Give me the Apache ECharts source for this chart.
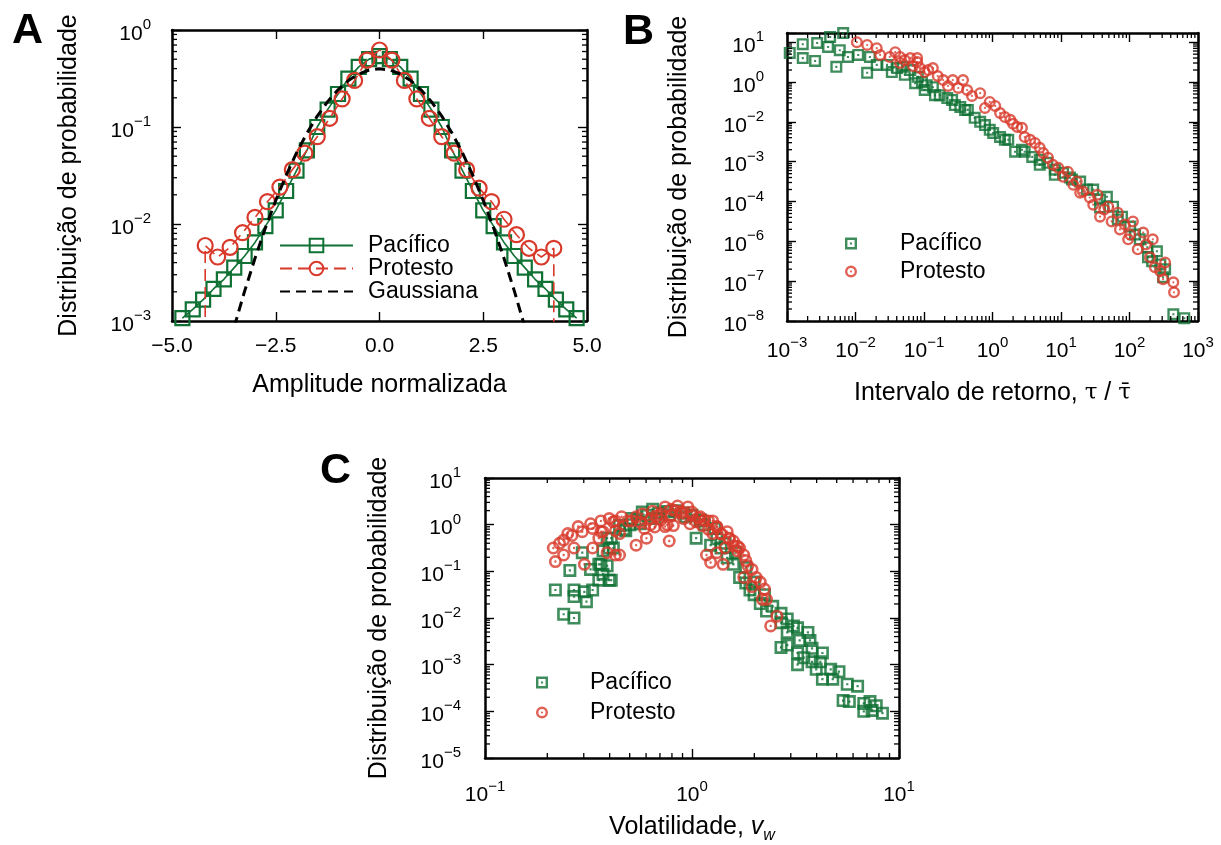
<!DOCTYPE html>
<html>
<head>
<meta charset="utf-8">
<script src="https://cdn.jsdelivr.net/npm/echarts@6/dist/echarts.min.js"></script>
<style>
  html, body { margin: 0; padding: 0; background: #fff; }
  #chart { width: 1221px; height: 845px; }
</style>
</head>
<body>
<div id="chart"></div>
<script>
// ---------- data ----------
// A: distribution of normalized amplitudes
const ampPacX = [-4.75,-4.5,-4.25,-4.0,-3.75,-3.5,-3.25,-3.0,-2.75,-2.5,-2.25,-2.0,-1.75,-1.5,-1.25,-1.0,-0.75,-0.5,-0.25,0,
                 0.25,0.5,0.75,1.0,1.25,1.5,1.75,2.0,2.25,2.5,2.75,3.0,3.25,3.5,3.75,4.0,4.25,4.5,4.75];
const ampPacP = [0.00107,0.00132,0.00166,0.00214,0.00269,0.00355,0.00468,0.00646,0.0095,0.0138,0.0219,0.0355,0.0575,0.100,0.151,0.219,0.316,0.417,0.501,0.537,
                 0.501,0.417,0.316,0.219,0.151,0.100,0.0575,0.0355,0.0219,0.0138,0.0095,0.00646,0.00468,0.00355,0.00269,0.00214,0.00166,0.00132,0.00107];
const ampProX = [-4.2,-3.9,-3.6,-3.3,-3.0,-2.7,-2.4,-2.1,-1.8,-1.5,-1.2,-0.9,-0.6,-0.3,0,
                 0.3,0.6,0.9,1.2,1.5,1.8,2.1,2.4,2.7,3.0,3.3,3.6,3.9,4.2];
const ampProP = [0.0060,0.00457,0.00575,0.00813,0.0117,0.0170,0.0240,0.0363,0.0537,0.0794,0.123,0.195,0.302,0.490,0.622,
                 0.490,0.302,0.195,0.123,0.0794,0.0537,0.0363,0.0234,0.0170,0.0112,0.00776,0.00562,0.00457,0.00562];
// empty outer bins: the dashed curve drops to the floor of the axis there
const ampProFloor = 1e-5;
const gaussX = [-3.5,-3.25,-3.0,-2.75,-2.5,-2.25,-2.0,-1.75,-1.5,-1.25,-1.0,-0.75,-0.5,-0.25,0,
                0.25,0.5,0.75,1.0,1.25,1.5,1.75,2.0,2.25,2.5,2.75,3.0,3.25,3.5];
const gaussP = [0.000873,0.00203,0.00443,0.00909,0.0175,0.0317,0.0540,0.0863,0.1295,0.1826,0.2420,0.3011,0.3521,0.3867,0.3989,
                0.3867,0.3521,0.3011,0.2420,0.1826,0.1295,0.0863,0.0540,0.0317,0.0175,0.00909,0.00443,0.00203,0.000873];

// B: return intervals, pairs of (log10 tau/taubar, log10 P)
const retPac = [[-2.96,0.73],[-2.77,0.95],[-2.77,0.60],[-2.59,0.53],[-2.56,0.98],[-2.40,0.88],[-2.37,1.13],[-2.28,0.38],
  [-2.23,0.80],[-2.18,1.23],[-2.11,0.63],[-1.96,0.68],[-1.83,0.23],[-1.79,0.63],[-1.69,0.43],[-1.54,0.43],[-1.47,0.25],
  [-1.39,0.35],[-1.31,0.38],[-1.28,0.18],[-1.20,0.30],[-1.13,-0.03],[-1.09,0.13],[-1.03,0.0],[-0.99,-0.20],[-0.96,-0.08],
  [-0.87,-0.13],[-0.84,-0.33],[-0.77,-0.33],[-0.66,-0.40],[-0.59,-0.45],[-0.55,-0.58],[-0.47,-0.63],[-0.40,-0.70],
  [-0.36,-0.70],[-0.26,-0.90],[-0.18,-1.00],[-0.11,-1.08],[-0.04,-1.20],[0.01,-1.28],[0.11,-1.38],[0.18,-1.45],[0.23,-1.45],
  [0.33,-1.75],[0.43,-1.70],[0.47,-1.75],[0.58,-1.88],[0.69,-1.95],[0.69,-2.08],[0.80,-2.03],[0.91,-2.20],[0.91,-2.33],
  [1.03,-2.28],[1.13,-2.40],[1.16,-2.45],[1.28,-2.50],[1.38,-2.70],[1.47,-2.70],[1.57,-2.95],[1.57,-3.15],[1.67,-2.88],
  [1.76,-3.13],[1.83,-3.45],[1.89,-3.38],[2.01,-3.63],[2.08,-3.83],[2.15,-3.95],[2.26,-4.15],[2.27,-4.40],[2.33,-4.50],
  [2.40,-4.25],[2.45,-4.58],[2.52,-4.70],[2.49,-4.90],[2.64,-5.83],[2.80,-5.93]];
const retPro = [[-1.98,1.00],[-1.83,0.93],[-1.69,0.85],[-1.64,0.68],[-1.50,0.63],[-1.42,0.75],[-1.35,0.48],[-1.35,0.63],
  [-1.28,0.55],[-1.20,0.60],[-1.16,0.40],[-1.10,0.50],[-1.10,0.60],[-1.06,0.35],[-0.99,0.25],[-0.94,0.30],[-0.87,0.35],
  [-0.80,0.15],[-0.72,0.05],[-0.65,-0.10],[-0.58,0.05],[-0.50,-0.15],[-0.43,0.05],[-0.37,-0.20],[-0.30,-0.35],[-0.18,-0.28],
  [-0.11,-0.65],[-0.04,-0.50],[0.04,-0.60],[0.11,-0.78],[0.18,-0.88],[0.26,-0.95],[0.30,-1.05],[0.36,-1.13],[0.43,-1.15],
  [0.47,-1.38],[0.55,-1.45],[0.62,-1.53],[0.69,-1.65],[0.74,-1.78],[0.81,-1.90],[0.88,-2.08],[0.96,-2.15],[1.03,-2.38],
  [1.10,-2.25],[1.18,-2.58],[1.23,-2.50],[1.28,-2.78],[1.32,-2.75],[1.42,-2.90],[1.47,-3.08],[1.53,-2.83],[1.57,-3.38],
  [1.63,-3.20],[1.69,-3.13],[1.74,-3.50],[1.83,-3.28],[1.86,-3.70],[1.93,-3.58],[1.98,-3.95],[2.01,-3.83],[2.05,-3.50],
  [2.12,-4.20],[2.20,-3.78],[2.24,-4.08],[2.30,-4.40],[2.34,-3.95],[2.37,-4.65],[2.45,-4.75],[2.49,-4.95],[2.52,-4.53],
  [2.64,-5.03],[2.65,-5.28]];
// printed exponents of the y tick labels, bottom to top (decades 10^-6 … 10^1)
const retYTickExp = ['−8','−7','−6','−4','−3','−2','0','1'];

// C: volatility, pairs of (log10 v_w, log10 P)
const volPac = [[-0.59,-0.98],[-0.66,-1.40],[-0.57,-1.40],[-0.57,-1.54],[-0.52,-1.44],[-0.51,-1.65],[-0.62,-1.92],[-0.57,-2.00],
  [-0.53,-0.60],[-0.49,-0.96],[-0.45,-0.85],[-0.43,-1.06],[-0.39,-1.19],[-0.45,-1.19],[-0.48,-1.40],[-0.41,-0.88],[-0.43,-0.56],
  [-0.38,-0.50],[-0.40,-0.50],[-0.44,-0.85],[-0.40,-1.19],[-0.41,-0.29],[-0.39,-0.29],[-0.35,-0.02],[-0.33,-0.10],[-0.32,-0.13],
  [-0.30,0.00],[-0.29,0.13],[-0.26,0.10],[-0.25,0.02],[-0.24,0.27],[-0.22,0.20],[-0.19,0.33],[-0.18,0.13],[-0.16,0.25],
  [-0.12,0.28],[-0.11,0.21],[-0.08,0.30],[-0.04,0.25],[-0.03,0.17],[0.00,0.20],[0.04,0.10],[0.04,0.08],[0.06,0.00],
  [0.11,-0.08],[0.02,-0.29],[0.09,-0.44],[0.12,-0.30],[0.14,-0.50],[0.16,-0.40],[0.17,-0.71],[0.20,-0.85],[0.21,-0.60],
  [0.23,-1.13],[0.26,-0.92],[0.26,-1.25],[0.28,-1.40],[0.30,-1.50],[0.30,-1.23],[0.33,-1.69],[0.35,-1.50],[0.39,-1.75],
  [0.36,-1.85],[0.43,-1.90],[0.46,-2.02],[0.49,-2.17],[0.56,-2.31],[0.43,-2.10],[0.46,-2.31],[0.51,-2.21],[0.52,-2.48],
  [0.46,-2.58],[0.43,-2.63],[0.57,-2.48],[0.51,-2.75],[0.58,-2.65],[0.63,-2.75],[0.54,-2.85],[0.51,-3.00],[0.58,-2.94],
  [0.62,-2.94],[0.60,-3.10],[0.67,-3.10],[0.63,-3.31],[0.68,-3.31],[0.71,-3.15],[0.75,-3.42],[0.80,-3.46],[0.73,-3.77],
  [0.76,-3.79],[0.83,-3.83],[0.86,-3.79],[0.83,-4.00],[0.89,-3.88],[0.92,-4.04],[0.87,-3.98]];
const volPro = [[-0.67,-0.50],[-0.66,-0.79],[-0.64,-0.40],[-0.62,-0.65],[-0.62,-0.33],[-0.60,-0.19],[-0.58,-0.23],[-0.57,-0.50],
  [-0.55,-0.04],[-0.53,-0.15],[-0.52,-0.85],[-0.49,0.02],[-0.48,-0.08],[-0.48,-0.50],[-0.45,-0.29],[-0.44,0.08],[-0.44,-0.15],
  [-0.43,-0.15],[-0.41,-0.60],[-0.40,0.13],[-0.38,0.06],[-0.37,-0.13],[-0.37,0.08],[-0.37,-0.65],[-0.35,-0.65],[-0.35,-0.19],
  [-0.34,0.17],[-0.31,0.08],[-0.29,0.08],[-0.27,-0.44],[-0.27,0.17],[-0.25,0.05],[-0.24,0.23],[-0.23,-0.08],[-0.22,-0.29],
  [-0.20,0.13],[-0.20,0.00],[-0.19,0.29],[-0.18,-0.05],[-0.17,0.19],[-0.15,0.23],[-0.15,0.10],[-0.13,0.38],[-0.13,-0.04],
  [-0.12,0.00],[-0.11,-0.35],[-0.10,0.20],[-0.10,0.33],[-0.09,-0.02],[-0.08,0.30],[-0.07,0.40],[-0.05,0.25],[-0.05,0.29],
  [-0.04,0.13],[-0.02,0.38],[-0.01,0.02],[0.00,0.20],[0.00,0.27],[0.02,0.06],[0.03,0.15],[0.04,0.17],[0.05,-0.02],
  [0.06,0.10],[0.07,-0.65],[0.08,-0.10],[0.08,0.08],[0.09,-0.81],[0.10,0.08],[0.10,-0.19],[0.12,-0.05],[0.12,-0.04],
  [0.12,-0.60],[0.14,-0.20],[0.14,-0.19],[0.15,-0.85],[0.16,-0.50],[0.17,-0.15],[0.18,-0.30],[0.18,-0.29],[0.20,-0.35],
  [0.20,-0.45],[0.22,-0.56],[0.22,-0.46],[0.23,-0.50],[0.25,-0.65],[0.26,-0.77],[0.27,-0.88],[0.25,-1.13],[0.29,-0.96],
  [0.31,-1.13],[0.29,-1.33],[0.33,-1.23],[0.34,-1.60],[0.35,-1.38],[0.36,-1.60],[0.41,-1.96],[0.38,-2.17]];

// ---------- styling helpers ----------
const FONT = '"Liberation Sans", Arial, Helvetica, sans-serif';
const SERIF = '"DejaVu Serif", "Liberation Serif", serif';
const GREEN = '#0f7133';
const RED = '#d8392a';
const INK = '#000';
const MAJOR = 9, MINOR = 5;
const TICK_FS = 21, SUP_FS = 15, TITLE_FS = 25, LEGEND_FS = 23;

const SQUARE_DOT = 'path://M0,0H20V20H0Z M4,4V16H16V4Z M8.3,8.3H11.7V11.7H8.3Z';
const CIRCLE_DOT = 'path://M10,0A10,10 0 1,1 10,20A10,10 0 1,1 10,0Z M10,4A6,6 0 1,0 10,16A6,6 0 1,0 10,4Z M10,8.2A1.8,1.8 0 1,1 10,11.8A1.8,1.8 0 1,1 10,8.2Z';

const supRich = {
  b: { fontSize: TICK_FS, lineHeight: TICK_FS, verticalAlign: 'bottom', fontFamily: FONT, color: INK },
  s: { fontSize: SUP_FS, lineHeight: SUP_FS, padding: [0, 0, 12, 0], verticalAlign: 'bottom', fontFamily: FONT, color: INK }
};
function pow10Label(exp) { return '{b|10}{s|' + exp + '}'; }
function decadeLabel(v) {
  const l = Math.log10(v), e = Math.round(l);
  if (Math.abs(l - e) > 1e-6) return '';
  return pow10Label(e < 0 ? '−' + (-e) : String(e));
}
function logMinors(lo, hi) {
  const out = [];
  for (let e = Math.floor(Math.log10(lo)); e <= Math.ceil(Math.log10(hi)); e++) {
    for (let m = 2; m <= 9; m++) {
      const v = m * Math.pow(10, e);
      if (v > lo && v < hi) out.push(v);
    }
  }
  return out;
}
const fromLog = pairs => pairs.map(p => [Math.pow(10, p[0]), Math.pow(10, p[1])]);

const frame = { show: true, onZero: false, lineStyle: { color: INK, width: 2.5 } };
const tick = { show: true, inside: true, length: MAJOR, lineStyle: { color: INK, width: 1.4 } };

function axisPair(dim, g, base, labelOpts, nameOpts) {
  const pos = dim === 'x' ? ['bottom', 'top'] : ['left', 'right'];
  const main = Object.assign({
    gridIndex: g, position: pos[0], axisLine: frame, axisTick: tick, splitLine: { show: false },
    axisLabel: Object.assign({ color: INK, fontFamily: FONT, fontSize: TICK_FS }, labelOpts)
  }, base, nameOpts || {});
  const mirror = Object.assign({
    gridIndex: g, position: pos[1], axisLine: frame, axisTick: tick, splitLine: { show: false },
    axisLabel: { show: false }
  }, base);
  return [main, mirror];
}

// minor ticks drawn inside the frame on both opposite edges
function minorTicks(g, dim, values, anchor) {
  return {
    type: 'custom', xAxisIndex: 2 * g, yAxisIndex: 2 * g, silent: true, z: 5, clip: false,
    data: values.map(v => dim === 'x' ? [v, anchor] : [anchor, v]),
    renderItem(params, api) {
      const cs = params.coordSys;
      const st = { stroke: INK, lineWidth: 1.3 };
      if (dim === 'x') {
        const px = api.coord([api.value(0), anchor])[0];
        const yb = cs.y + cs.height, yt = cs.y;
        return { type: 'group', children: [
          { type: 'line', shape: { x1: px, y1: yb, x2: px, y2: yb - MINOR }, style: st },
          { type: 'line', shape: { x1: px, y1: yt, x2: px, y2: yt + MINOR }, style: st } ] };
      }
      const py = api.coord([anchor, api.value(1)])[1];
      const xl = cs.x, xr = cs.x + cs.width;
      return { type: 'group', children: [
        { type: 'line', shape: { x1: xl, y1: py, x2: xl + MINOR, y2: py }, style: st },
        { type: 'line', shape: { x1: xr, y1: py, x2: xr - MINOR, y2: py }, style: st } ] };
    }
  };
}

const yName = (gap) => ({
  name: 'Distribuição de probabilidade', nameLocation: 'middle', nameGap: gap, nameRotate: 90,
  nameTextStyle: { fontFamily: FONT, fontSize: TITLE_FS, color: INK }
});
// y tick labels sit a little low so that the "10" is centred on its tick
const yLabelPad = [8, 0, 0, 0];

// ---------- axes ----------
const xA = axisPair('x', 0, { type: 'value', min: -5, max: 5, interval: 2.5 },
  { margin: 15, formatter: v => (v < 0 ? '−' : '') + Math.abs(v).toFixed(1) },
  { name: 'Amplitude normalizada', nameLocation: 'middle', nameGap: 52,
    nameTextStyle: { fontFamily: FONT, fontSize: TITLE_FS, color: INK } });
const yA = axisPair('y', 0, { type: 'log', logBase: 10, min: 1e-3, max: 1 },
  { margin: 21, padding: yLabelPad, formatter: decadeLabel, rich: supRich }, yName(90));

const xB = axisPair('x', 1, { type: 'log', logBase: 10, min: 1e-3, max: 1e3 },
  { margin: 20, formatter: decadeLabel, rich: supRich },
  { name: 'Intervalo de retorno, {t|τ} / {t|τ̄}', nameLocation: 'middle', nameGap: 60,
    nameTextStyle: { fontFamily: FONT, fontSize: TITLE_FS, color: INK,
      rich: { t: { fontFamily: SERIF, fontSize: 23, color: INK } } } });
const yB = axisPair('y', 1, { type: 'log', logBase: 10, min: 1e-6, max: 17 },
  { margin: 23, padding: yLabelPad, rich: supRich, formatter: v => {
      const l = Math.log10(v), e = Math.round(l);
      if (Math.abs(l - e) > 1e-6) return '';
      return pow10Label(retYTickExp[e + 6]);
    } }, yName(95));

const xC = axisPair('x', 2, { type: 'log', logBase: 10, min: 0.1, max: 10 },
  { margin: 27, formatter: decadeLabel, rich: supRich },
  { name: '{n|Volatilidade, }{v|v}{w|w}', nameLocation: 'middle', nameGap: 57,
    nameTextStyle: { fontFamily: FONT, fontSize: TITLE_FS, color: INK, rich: {
      n: { fontFamily: FONT, fontSize: TITLE_FS, lineHeight: TITLE_FS, verticalAlign: 'top', color: INK },
      v: { fontFamily: FONT, fontSize: TITLE_FS, lineHeight: TITLE_FS, verticalAlign: 'top', fontStyle: 'italic', color: INK },
      w: { fontFamily: FONT, fontSize: 16, lineHeight: 16, padding: [13, 0, 0, 0], verticalAlign: 'top', fontStyle: 'italic', color: INK }
    } } });
const yC = axisPair('y', 2, { type: 'log', logBase: 10, min: 1e-5, max: 10 },
  { margin: 24, padding: yLabelPad, formatter: decadeLabel, rich: supRich }, yName(93));

// ---------- series ----------
const legendText = { fontFamily: FONT, fontSize: LEGEND_FS, color: INK };
const stripTag = n => n.replace(/ \[.\]$/, '');
const hollow = 'rgba(255,255,255,0)';

const proLine = [{ value: [ampProX[0], ampProFloor], symbol: 'none' }]
  .concat(ampProX.map((x, i) => [x, ampProP[i]]))
  .concat([{ value: [ampProX[ampProX.length - 1], ampProFloor], symbol: 'none' }]);

const series = [
  { name: 'Pacífico [A]', type: 'line', xAxisIndex: 0, yAxisIndex: 0, z: 3,
    data: ampPacX.map((x, i) => [x, ampPacP[i]]),
    symbol: 'rect', symbolSize: 14,
    lineStyle: { color: GREEN, width: 1.6 },
    itemStyle: { color: hollow, borderColor: GREEN, borderWidth: 2.2 } },
  { name: 'Protesto [A]', type: 'line', xAxisIndex: 0, yAxisIndex: 0, z: 4,
    data: proLine,
    symbol: 'circle', symbolSize: 15,
    lineStyle: { color: RED, width: 1.6, type: [12, 6] },
    itemStyle: { color: hollow, borderColor: RED, borderWidth: 2.2 } },
  { name: 'Gaussiana [A]', type: 'line', xAxisIndex: 0, yAxisIndex: 0, z: 5,
    data: gaussX.map((x, i) => [x, gaussP[i]]),
    symbol: 'none', lineStyle: { color: INK, width: 3, type: [10, 6] },
    itemStyle: { color: hollow, borderColor: hollow } },

  { name: 'Pacífico [B]', type: 'scatter', xAxisIndex: 2, yAxisIndex: 2, z: 3,
    data: fromLog(retPac), symbol: SQUARE_DOT, symbolSize: 12, itemStyle: { color: GREEN } },
  { name: 'Protesto [B]', type: 'scatter', xAxisIndex: 2, yAxisIndex: 2, z: 4,
    data: fromLog(retPro), symbol: CIRCLE_DOT, symbolSize: 12, itemStyle: { color: RED } },

  { name: 'Pacífico [C]', type: 'scatter', xAxisIndex: 4, yAxisIndex: 4, z: 3,
    data: fromLog(volPac), symbol: SQUARE_DOT, symbolSize: 13, itemStyle: { color: GREEN } },
  { name: 'Protesto [C]', type: 'scatter', xAxisIndex: 4, yAxisIndex: 4, z: 4,
    data: fromLog(volPro), symbol: CIRCLE_DOT, symbolSize: 13, itemStyle: { color: RED } },

  minorTicks(0, 'y', logMinors(1e-3, 1), -5),
  minorTicks(1, 'x', logMinors(1e-3, 1e3), 1),
  minorTicks(1, 'y', logMinors(1e-6, 17), 1),
  minorTicks(2, 'x', logMinors(0.1, 10), 1),
  minorTicks(2, 'y', logMinors(1e-5, 10), 1)
];

const panelLetter = (txt, x, y) => ({
  type: 'text', x: x, y: y,
  style: { text: txt, fontFamily: FONT, fontSize: 43, fontWeight: 'bold', fill: INK, verticalAlign: 'middle' }
});

const option = {
  backgroundColor: '#fff',
  animation: false,
  grid: [
    { left: 172, top: 30, width: 415, height: 291 },
    { left: 787, top: 33, width: 411, height: 288 },
    { left: 485, top: 478, width: 414, height: 288 }
  ],
  xAxis: [...xA, ...xB, ...xC],
  yAxis: [...yA, ...yB, ...yC],
  legend: [
    { data: ['Pacífico [A]', 'Protesto [A]', 'Gaussiana [A]'], orient: 'vertical', left: 274, top: 229,
      itemWidth: 73, itemHeight: 17, itemGap: 0, formatter: stripTag,
      textStyle: Object.assign({ padding: [0, 0, 0, 10] }, legendText) },
    { data: ['Pacífico [B]', 'Protesto [B]'], orient: 'vertical', left: 840, top: 227,
      itemWidth: 14, itemHeight: 12, itemGap: 5, formatter: stripTag,
      textStyle: Object.assign({ padding: [0, 0, 0, 37] }, legendText) },
    { data: ['Pacífico [C]', 'Protesto [C]'], orient: 'vertical', left: 531, top: 666,
      itemWidth: 14, itemHeight: 12, itemGap: 7, formatter: stripTag,
      textStyle: Object.assign({ padding: [0, 0, 0, 36] }, legendText) }
  ],
  graphic: [panelLetter('A', 12, 31), panelLetter('B', 623, 32), panelLetter('C', 320, 471)],
  series: series
};

const chart = echarts.init(document.getElementById('chart'), null, { renderer: 'canvas' });
chart.setOption(option);
</script>
</body>
</html>
